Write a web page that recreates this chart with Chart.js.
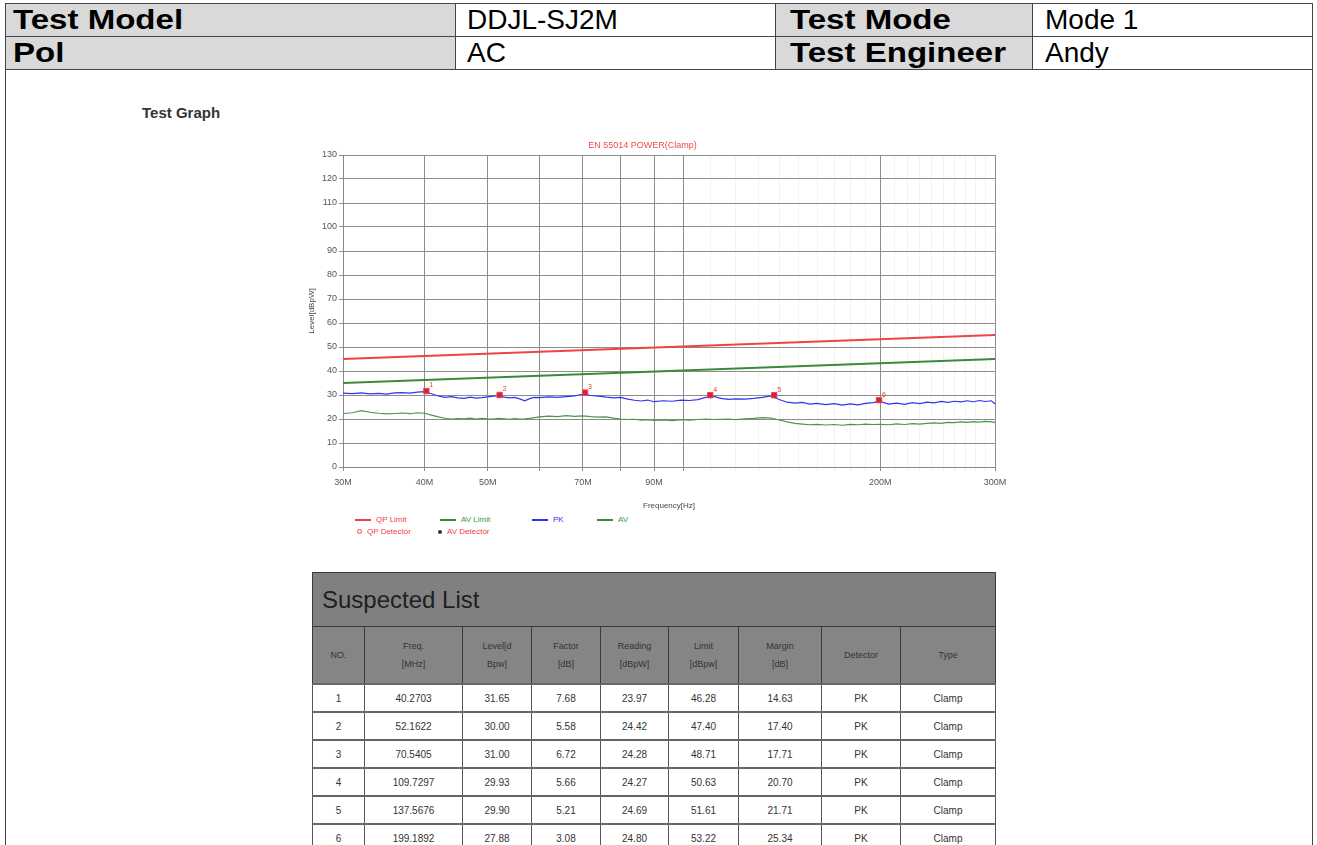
<!DOCTYPE html>
<html>
<head>
<meta charset="utf-8">
<script src="https://cdn.jsdelivr.net/npm/chart.js@4.4.1/dist/chart.umd.min.js"></script>
<style>
body { margin:0; background:#fff; font-family:"Liberation Sans", Arial, sans-serif; }
#page { position:relative; width:1317px; height:845px; overflow:hidden; }
#frame { position:absolute; left:5px; top:3px; width:1306px; height:900px; border:1px solid #444; }
#head { position:absolute; left:5px; top:3px; border-collapse:collapse; table-layout:fixed; }
#head td { border:1px solid #444; height:32px; padding:0; font-size:28px; line-height:32px; color:#000; white-space:nowrap; overflow:hidden; }
#head td.lab { background:#d9d9d9; font-weight:bold; }
#head td span { display:inline-block; transform-origin:left center; }
#head td.lab span { transform:scaleX(1.18); }
#testGraph { position:absolute; left:142px; top:104px; font-size:15px; font-weight:bold; color:#333; }
#chartBox { position:absolute; left:290px; top:135px; }
#legend { position:absolute; left:0; top:0; font-size:8px; }
.lg { position:absolute; white-space:nowrap; line-height:10px; }
.lg i { display:inline-block; vertical-align:middle; margin-right:5px; }
#susp { position:absolute; left:312px; top:572px; border-collapse:collapse; table-layout:fixed; width:683px; }
#susp td, #susp th { border:1px solid #3a3a3a; text-align:center; padding:0; }
#susp .title { background:#808080; height:53px; text-align:left; font-size:24px; color:#1e1e1e; font-weight:normal; padding-left:9px; }
#susp th { background:#858585; height:56px; font-size:9px; font-weight:normal; color:#333; line-height:18px; }
#susp td { background:#fff; height:26px; font-size:10px; color:#333; border-color:#555; border-top:2px solid #666; }
</style>
</head>
<body>
<div id="page">
  <div id="frame"></div>
  <table id="head">
    <colgroup><col style="width:450px"><col style="width:320px"><col style="width:257px"><col style="width:280px"></colgroup>
    <tr>
      <td class="lab" style="padding-left:7px"><span>Test Model</span></td>
      <td style="padding-left:11px"><span>DDJL-SJ2M</span></td>
      <td class="lab" style="padding-left:14px"><span>Test Mode</span></td>
      <td style="padding-left:12px"><span>Mode 1</span></td>
    </tr>
    <tr>
      <td class="lab" style="padding-left:7px"><span>Pol</span></td>
      <td style="padding-left:11px"><span>AC</span></td>
      <td class="lab" style="padding-left:14px"><span>Test Engineer</span></td>
      <td style="padding-left:12px"><span>Andy</span></td>
    </tr>
  </table>
  <div id="testGraph">Test Graph</div>
  <div id="chartBox"><canvas id="emc" width="730" height="380"></canvas></div>
  <div id="legend"></div>
  <table id="susp"></table>
</div>
<script>
// measured trace, frequency in MHz, level in dBpW
const freqMHz = [30,31,32,33,34,35,36,37,38,39,
  40,41,42,43,44,45,46,47,48,49,
  50,51,52,53,54,55,56,57,58,59,
  60,62,64,66,68,70,72,74,76,78,
  80,82,84,86,88,90,93,96,99,102,
  105,108,111,114,117,120,124,128,132,136,
  140,144,148,152,156,160,165,170,175,180,
  185,190,195,200,206,212,218,224,230,236,
  242,248,254,260,266,272,278,284,290,296,
  300];
const pkLevel = [30.8,30.6,30.9,30.5,30.7,30.4,30.9,31.0,30.8,31.2,
  31.4,30.5,29.6,29.0,29.3,28.8,28.6,29.1,28.7,28.9,
  29.2,29.5,29.8,29.1,28.8,29.0,28.4,27.6,28.5,29.0,
  28.9,29.2,29.0,29.3,29.6,30.4,29.8,29.5,29.1,28.8,
  29.0,28.3,27.8,27.5,27.9,27.2,27.6,27.4,27.9,27.7,
  28.1,29.0,29.4,28.6,28.2,28.4,28.3,28.6,29.0,29.6,
  28.1,27.0,26.6,26.9,26.2,26.5,26.0,26.4,25.8,26.3,
  25.9,26.5,26.8,27.3,26.2,26.6,26.1,26.8,26.4,27.0,
  26.7,27.3,26.9,27.4,27.1,27.6,27.2,27.7,27.3,27.6,
  26.3];
const avLevel = [22.3,22.6,23.5,22.8,22.4,22.1,22.3,22.5,22.2,22.6,
  22.4,21.6,20.9,20.3,20.0,20.2,20.1,20.4,20.0,20.3,
  20.1,20.0,20.3,20.1,19.9,20.2,20.0,20.1,20.3,20.6,
  20.9,21.2,21.0,21.4,21.1,21.3,21.0,20.8,20.9,20.4,
  20.0,19.8,19.9,19.5,19.7,19.4,19.6,19.3,19.7,19.5,
  19.8,20.0,19.8,19.9,20.0,19.7,20.1,20.3,20.6,20.4,
  19.6,18.8,18.2,17.9,17.6,17.8,17.5,17.7,17.4,17.8,
  17.6,17.9,17.7,17.8,17.6,18.0,17.7,18.1,17.9,18.2,
  18.4,18.2,18.6,18.5,18.8,18.6,18.9,18.7,19.0,18.8,
  18.6];

// EN 55014 clamp limits (end points)
const limitFreq = [30, 300];
const qpLimit = [45, 55];
const avLimit = [35, 45];

// suspected list
const suspNo = [1, 2, 3, 4, 5, 6];
const suspFreq = [40.2703, 52.1622, 70.5405, 109.7297, 137.5676, 199.1892];
const suspLevel = [31.65, 30.00, 31.00, 29.93, 29.90, 27.88];
const suspFactor = [7.68, 5.58, 6.72, 5.66, 5.21, 3.08];
const suspReading = [23.97, 24.42, 24.28, 24.27, 24.69, 24.80];
const suspLimit = [46.28, 47.40, 48.71, 50.63, 51.61, 53.22];
const suspMargin = [14.63, 17.40, 17.71, 20.70, 21.71, 25.34];
const suspDetector = ['PK', 'PK', 'PK', 'PK', 'PK', 'PK'];
const suspType = ['Clamp', 'Clamp', 'Clamp', 'Clamp', 'Clamp', 'Clamp'];

// axis ticks
const xGridValues = [30,40,50,60,70,80,90,100,110,120,130,140,150,160,170,180,190,200,
  210,220,230,240,250,260,270,280,290,300];
const xMajorValues = [30,40,50,60,70,80,90,100,200,300];
const xTickLabels = [30,40,50,70,90,200,300];

function points(xs, ys){
  return xs.map((x, i) => ({x: x, y: ys[i]}));
}

const FONT = '"Liberation Sans", Arial, sans-serif';

const markerNumbers = {
  id: 'markerNumbers',
  afterDatasetsDraw(chart){
    const meta = chart.getDatasetMeta(0);
    const ctx = chart.ctx;
    ctx.save();
    ctx.fillStyle = '#e23a3a';
    ctx.font = '7px ' + FONT;
    ctx.textBaseline = 'bottom';
    meta.data.forEach((pt, i) => ctx.fillText(String(suspNo[i]), pt.x + 3, pt.y - 2));
    ctx.restore();
  }
};

const chart = new Chart(document.getElementById('emc'), {
  type: 'line',
  data: {
    datasets: [
      {label: 'Suspected', data: points(suspFreq, suspLevel), showLine: false,
       pointStyle: 'rect', pointRadius: 3.8, backgroundColor: '#c8283c', borderColor: '#f04050',
       borderWidth: 1, order: 0, legend: false},
      {label: 'QP Limit', data: points(limitFreq, qpLimit), borderColor: '#f04444', borderWidth: 2,
       pointRadius: 0, order: 2, legendColor: '#f04444', legendText: '#f04444'},
      {label: 'AV Limit', data: points(limitFreq, avLimit), borderColor: '#3a8a3a', borderWidth: 2,
       pointRadius: 0, order: 2, legendColor: '#3a8a3a', legendText: '#3a9a3a'},
      {label: 'PK', data: points(freqMHz, pkLevel), borderColor: '#3434f0', borderWidth: 1.2,
       pointRadius: 0, order: 3, legendColor: '#3434f0', legendText: '#3434f0'},
      {label: 'AV', data: points(freqMHz, avLevel), borderColor: '#4c964c', borderWidth: 1.2,
       pointRadius: 0, order: 3, legendColor: '#3a8a3a', legendText: '#3a9a3a'},
      {label: 'QP Detector', data: [], showLine: false, pointStyle: 'circle',
       borderColor: '#f04444', order: 4, marker: 'circle', legendText: '#f04444'},
      {label: 'AV Detector', data: [], showLine: false, pointStyle: 'star',
       borderColor: '#333', order: 4, marker: 'dot', legendText: '#f04444'}
    ]
  },
  options: {
    responsive: false,
    animation: false,
    layout: {padding: {left: 0, right: 25, top: 0, bottom: 0}},
    elements: {line: {tension: 0}},
    plugins: {
      legend: {display: false},
      tooltip: {enabled: false},
      title: {display: true, text: 'EN 55014 POWER(Clamp)', color: '#f04a4a',
              font: {size: 9, family: FONT, weight: 'normal'}, padding: {top: 5, bottom: 4.2}}
    },
    scales: {
      x: {
        type: 'logarithmic', min: 30, max: 300,
        afterBuildTicks: axis => { axis.ticks = xGridValues.map(v => ({value: v})); },
        afterFit: axis => { axis.height = 48; },
        ticks: {autoSkip: false, maxRotation: 0, padding: 6, color: '#555',
                font: {size: 9, family: FONT},
                callback: v => xTickLabels.includes(v) ? v + 'M' : ''},
        grid: {color: ctx => xMajorValues.includes(ctx.tick && ctx.tick.value) ? '#8c8c8c' : '#f2f2f2',
               tickLength: 4, drawTicks: true},
        border: {color: '#888'},
        title: {display: true, text: 'Frequency[Hz]', color: '#444',
                font: {size: 8, family: FONT}, padding: {top: 0, bottom: 4}}
      },
      y: {
        min: 0, max: 130,
        afterFit: axis => { axis.width = 53; },
        ticks: {stepSize: 10, padding: 2, color: '#555', font: {size: 9, family: FONT}},
        grid: {color: '#8c8c8c', tickLength: 4},
        border: {color: '#888'},
        title: {display: true, text: 'Level[dBpW]', color: '#444',
                font: {size: 8, family: FONT}, padding: {top: 17, bottom: 0}}
      }
    }
  },
  plugins: [markerNumbers]
});

// legend below the plot, built from the chart's datasets
const legendSlots = [[355, 515], [440, 515], [532, 515], [597, 515], [356, 527], [437, 527]];
const legendBox = document.getElementById('legend');
chart.data.datasets.filter(ds => ds.legend !== false).forEach((ds, i) => {
  const item = document.createElement('div');
  item.className = 'lg';
  item.style.left = legendSlots[i][0] + 'px';
  item.style.top = legendSlots[i][1] + 'px';
  const sym = document.createElement('i');
  if (ds.marker === 'circle') {
    sym.style.cssText = 'width:3px;height:3px;border:1px solid ' + ds.borderColor + ';border-radius:50%;margin:0 5px 0 1px';
  } else if (ds.marker === 'dot') {
    sym.style.cssText = 'width:4px;height:4px;background:' + ds.borderColor + ';border-radius:50%;margin:0 5px 0 1px';
  } else {
    sym.style.cssText = 'width:16px;height:0;border-top:2px solid ' + ds.legendColor;
  }
  item.appendChild(sym);
  const txt = document.createElement('span');
  txt.textContent = ds.label;
  txt.style.color = ds.legendText;
  item.appendChild(txt);
  legendBox.appendChild(item);
});

// suspected list table
const colWidths = [52, 98, 69, 69, 68, 70, 83, 79, 95];
const colHeads = ['NO.', 'Freq.<br>[MHz]', 'Level[d<br>Bpw]', 'Factor<br>[dB]', 'Reading<br>[dBpW]',
  'Limit<br>[dBpw]', 'Margin<br>[dB]', 'Detector', 'Type'];
const tbl = document.getElementById('susp');
let html = '<colgroup>' + colWidths.map(w => '<col style="width:' + w + 'px">').join('') + '</colgroup>';
html += '<tr><th class="title" colspan="9">Suspected List</th></tr>';
html += '<tr>' + colHeads.map(h => '<th>' + h + '</th>').join('') + '</tr>';
suspNo.forEach((n, i) => {
  const cells = [n, suspFreq[i].toFixed(4), suspLevel[i].toFixed(2), suspFactor[i].toFixed(2),
    suspReading[i].toFixed(2), suspLimit[i].toFixed(2), suspMargin[i].toFixed(2), suspDetector[i], suspType[i]];
  html += '<tr>' + cells.map(c => '<td>' + c + '</td>').join('') + '</tr>';
});
tbl.innerHTML = html;
</script>
</body>
</html>
